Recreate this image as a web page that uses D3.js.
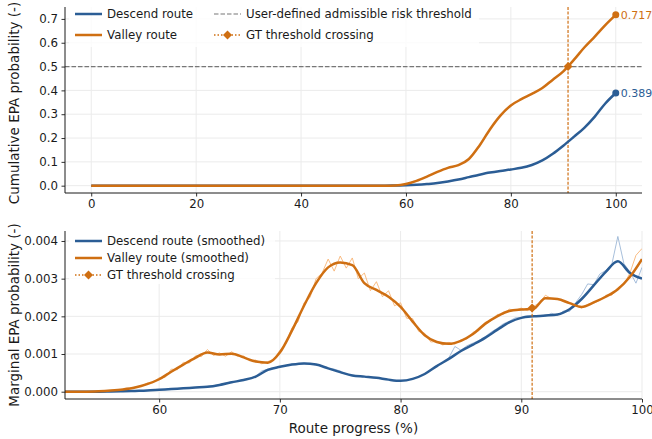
<!DOCTYPE html>
<html><head><meta charset="utf-8">
<script src="https://cdn.jsdelivr.net/npm/d3@7"></script>
<style>
body{margin:0;background:#fff;}
svg text{font-family:"DejaVu Sans",sans-serif;}
</style></head>
<body><svg id="c" width="652" height="439"></svg>
<script>
// ---------- DATA ----------
const cumX = [0,20,40,56,58,60,62,64,66,68,70,72,74,76,78,80,82,84,86,88,90,92,94,96,98,100];
const cumValley = [0,0,0,0,0.001,0.007,0.020,0.038,0.058,0.075,0.086,0.112,0.168,0.236,0.294,0.337,0.363,0.385,0.410,0.445,0.480,0.528,0.580,0.626,0.674,0.717];
const cumDescend = [0,0,0,0,0.001,0.002,0.004,0.007,0.011,0.018,0.026,0.036,0.046,0.055,0.062,0.068,0.075,0.087,0.106,0.134,0.168,0.205,0.243,0.290,0.345,0.389];
const topXTicks = [0,20,40,60,80,100];
const topYTicks = [0.0,0.1,0.2,0.3,0.4,0.5,0.6,0.7];
const threshold = 0.5;
const gtCross = 90.9;
const gtMarginal = 0.00222;
const endLabels = ["0.717","0.389"];

// marginal, smoothed (1 % steps from 52 to 100), units 1e-3
const smStart = 52, smStep = 1;
const smValley = [0,0,0,0.01,0.03,0.06,0.11,0.20,0.33,0.53,
  0.72,0.90,1.04,0.99,1.01,0.91,0.80,0.77,1.04,1.62,
  2.28,2.88,3.30,3.43,3.36,2.88,2.70,2.52,2.25,1.86,
  1.50,1.32,1.27,1.35,1.53,1.80,2.00,2.14,2.18,2.20,
  2.48,2.46,2.35,2.25,2.37,2.52,2.72,3.05,3.52];
const smDescend = [0,0,0,0,0.005,0.01,0.02,0.03,0.05,0.07,
  0.09,0.11,0.13,0.18,0.25,0.31,0.40,0.58,0.66,0.72,
  0.75,0.72,0.62,0.52,0.43,0.40,0.37,0.32,0.29,0.34,
  0.47,0.68,0.87,1.08,1.25,1.43,1.64,1.84,1.96,2.00,
  2.02,2.05,2.19,2.46,2.82,3.18,3.46,3.15,3.00];
// marginal, raw (0.5 % steps from 52 to 100), units 1e-3
const rawStart = 52, rawStep = 0.5;
const rawValley = [0,0,0,0,0,0.005,0.01,0.015,0.03,0.04,
  0.06,0.08,0.12,0.14,0.23,0.24,0.37,0.38,0.60,0.58,
  0.78,0.76,0.95,0.93,1.12,0.96,1.03,0.94,1.06,0.95,
  0.95,0.82,0.84,0.74,0.80,0.86,1.10,1.28,1.70,1.85,
  2.36,2.50,3.00,3.15,3.52,3.20,3.60,3.28,3.55,3.00,
  3.15,2.68,2.92,2.52,2.68,2.28,2.36,1.95,1.94,1.60,
  1.55,1.32,1.33,1.24,1.31,1.26,1.38,1.40,1.58,1.62,
  1.84,1.88,2.05,2.06,2.19,2.16,2.22,2.15,2.26,2.36,
  2.56,2.47,2.47,2.39,2.36,2.28,2.22,2.32,2.35,2.42,
  2.56,2.56,2.76,2.84,3.15,3.62,3.80];
const rawDescend = [0,0,0,0,0,0,0,0,0.005,0.008,
  0.01,0.015,0.02,0.025,0.03,0.04,0.05,0.06,0.07,0.08,
  0.09,0.10,0.11,0.12,0.14,0.16,0.19,0.23,0.26,0.28,
  0.31,0.35,0.41,0.55,0.60,0.63,0.66,0.70,0.73,0.74,
  0.76,0.74,0.71,0.67,0.62,0.60,0.55,0.46,0.44,0.41,
  0.41,0.38,0.37,0.34,0.32,0.30,0.29,0.31,0.34,0.40,
  0.48,0.58,0.70,0.76,0.90,1.20,1.10,1.22,1.29,1.36,
  1.46,1.58,1.68,1.80,1.87,1.96,1.97,2.01,1.99,2.02,
  2.00,2.08,2.03,2.14,2.13,2.36,2.58,2.86,2.84,3.12,
  3.22,3.38,4.12,3.40,3.18,2.88,3.30];
const botXTicks = [60,70,80,90,100];
const botYTicks = [0,0.001,0.002,0.003,0.004];

// ---------- STYLE ----------
const BLUE = "#2b5d95", ORANGE = "#cf6f12";
const BLUE_RAW = "#8aa9cf", ORANGE_RAW = "#f7ad66";
const svg = d3.select("#c");
const FS = 11.8;

function drawGrid(g, x, y, xt, yt, L, R, T, B){
  g.append("g").selectAll("line").data(xt).join("line")
    .attr("x1",d=>x(d)).attr("x2",d=>x(d)).attr("y1",T).attr("y2",B)
    .attr("stroke","#ebebeb").attr("stroke-width",1);
  g.append("g").selectAll("line").data(yt).join("line")
    .attr("x1",L).attr("x2",R).attr("y1",d=>y(d)).attr("y2",d=>y(d))
    .attr("stroke","#ebebeb").attr("stroke-width",1);
}
function drawAxes(g, x, y, xt, yt, xfmt, yfmt, L, R, T, B){
  const ax = g.append("g").attr("transform",`translate(0,${B})`)
    .call(d3.axisBottom(x).tickValues(xt).tickFormat(xfmt).tickSize(3.5).tickPadding(3.5).tickSizeOuter(0));
  const ay = g.append("g").attr("transform",`translate(${L},0)`)
    .call(d3.axisLeft(y).tickValues(yt).tickFormat(yfmt).tickSize(3.5).tickPadding(3.5).tickSizeOuter(0));
  [ax,ay].forEach(a=>{
    a.select(".domain").remove();
    a.selectAll("text").attr("font-size",FS).attr("fill","#1a1a1a");
    a.selectAll(".tick line").attr("stroke","#1a1a1a").attr("stroke-width",0.9);
  });
  g.append("line").attr("x1",L).attr("x2",L).attr("y1",T).attr("y2",B).attr("stroke","#1a1a1a").attr("stroke-width",1);
  g.append("line").attr("x1",L).attr("x2",R).attr("y1",B).attr("y2",B).attr("stroke","#1a1a1a").attr("stroke-width",1);
}
function diamond(g, cx, cy, r, col){
  g.append("path").attr("d",`M${cx},${cy-r}L${cx+r},${cy}L${cx},${cy+r}L${cx-r},${cy}Z`).attr("fill",col);
}

// ---------- TOP PANEL ----------
{
  const L=65,R=642,T=7,B=193;
  const x = d3.scaleLinear().domain([-5,105]).range([L,R]);
  const y = d3.scaleLinear().domain([-0.0307,0.750]).range([B,T]);
  const g = svg.append("g");
  drawGrid(g,x,y,topXTicks,topYTicks,L,R,T,B);
  g.append("line").attr("x1",L).attr("x2",R).attr("y1",y(threshold)).attr("y2",y(threshold))
    .attr("stroke","#777").attr("stroke-width",1.2).attr("stroke-dasharray","4.5,2");
  g.append("line").attr("x1",x(gtCross)).attr("x2",x(gtCross)).attr("y1",T).attr("y2",B)
    .attr("stroke",ORANGE).attr("stroke-opacity",0.85).attr("stroke-width",1.4).attr("stroke-dasharray","3,1.6");
  const line = d3.line().x((d,i)=>x(cumX[i])).y(d=>y(d)).curve(d3.curveMonotoneX);
  g.append("path").attr("d",line(cumDescend)).attr("fill","none").attr("stroke",BLUE).attr("stroke-width",2.5);
  g.append("path").attr("d",line(cumValley)).attr("fill","none").attr("stroke",ORANGE).attr("stroke-width",2.5);
  const lastV = cumValley[cumValley.length-1], lastD = cumDescend[cumDescend.length-1];
  const lastX = cumX[cumX.length-1];
  g.append("circle").attr("cx",x(lastX)).attr("cy",y(lastV)).attr("r",3.5).attr("fill",ORANGE);
  g.append("circle").attr("cx",x(lastX)).attr("cy",y(lastD)).attr("r",3.5).attr("fill",BLUE);
  g.append("text").attr("x",x(lastX)+5).attr("y",y(lastV)).attr("dy","0.35em").attr("font-size",11).attr("fill",ORANGE).text(endLabels[0]);
  g.append("text").attr("x",x(lastX)+5).attr("y",y(lastD)).attr("dy","0.35em").attr("font-size",11).attr("fill",BLUE).text(endLabels[1]);
  diamond(g, x(gtCross), y(threshold), 4.5, ORANGE);
  drawAxes(g,x,y,topXTicks,topYTicks,d3.format("d"),d3.format(".1f"),L,R,T,B);
  const lg = g.append("g");
  lg.append("rect").attr("x",69).attr("y",3).attr("width",410).attr("height",44).attr("fill","#fff").attr("opacity",0.8);
  const items = [
    {x:75,y:14,t:"Descend route",c:BLUE,type:"solid"},
    {x:75,y:35,t:"Valley route",c:ORANGE,type:"solid"},
    {x:214,y:14,t:"User-defined admissible risk threshold",c:"#777",type:"dash"},
    {x:214,y:35,t:"GT threshold crossing",c:ORANGE,type:"dot"}
  ];
  items.forEach(it=>{
    const ln = lg.append("line").attr("x1",it.x).attr("x2",it.x+27).attr("y1",it.y).attr("y2",it.y).attr("stroke",it.c);
    if(it.type==="solid") ln.attr("stroke-width",2.5);
    if(it.type==="dash") ln.attr("stroke-width",1.2).attr("stroke-dasharray","4.5,2");
    if(it.type==="dot"){ ln.attr("stroke-width",1.4).attr("stroke-dasharray","1.5,2"); diamond(lg,it.x+13.5,it.y,4.5,it.c); }
    lg.append("text").attr("x",it.x+32).attr("y",it.y).attr("dy","0.35em").attr("font-size",FS).attr("fill","#1a1a1a").text(it.t);
  });
  svg.append("text").attr("transform",`translate(14,${(T+B)/2+3}) rotate(-90)`).attr("text-anchor","middle")
    .attr("dy","0.35em").attr("font-size",13.5).attr("fill","#1a1a1a").text("Cumulative EPA probability (-)");
}

// ---------- BOTTOM PANEL ----------
{
  const L=65,R=642,T=231,B=399;
  const x = d3.scaleLinear().domain([52.2,100]).range([L,R]);
  const y = d3.scaleLinear().domain([-0.000194,0.004265]).range([B,T]);
  const g = svg.append("g");
  drawGrid(g,x,y,botXTicks,botYTicks,L,R,T,B);
  g.append("clipPath").attr("id","clipB").append("rect").attr("x",L).attr("y",T-4).attr("width",R-L).attr("height",B-T+4);
  const pg = g.append("g").attr("clip-path","url(#clipB)");
  const rawLine = d3.line().x((d,i)=>x(rawStart+i*rawStep)).y(d=>y(d*1e-3));
  const smLine = d3.line().x((d,i)=>x(smStart+i*smStep)).y(d=>y(d*1e-3)).curve(d3.curveMonotoneX);
  pg.append("path").attr("d",rawLine(rawDescend)).attr("fill","none").attr("stroke",BLUE_RAW).attr("stroke-opacity",0.75).attr("stroke-width",1);
  pg.append("path").attr("d",rawLine(rawValley)).attr("fill","none").attr("stroke",ORANGE_RAW).attr("stroke-opacity",0.8).attr("stroke-width",1);
  g.append("line").attr("x1",x(gtCross)).attr("x2",x(gtCross)).attr("y1",T).attr("y2",B)
    .attr("stroke",ORANGE).attr("stroke-opacity",0.85).attr("stroke-width",1.4).attr("stroke-dasharray","3,1.6");
  pg.append("path").attr("d",smLine(smDescend)).attr("fill","none").attr("stroke",BLUE).attr("stroke-width",2.5);
  pg.append("path").attr("d",smLine(smValley)).attr("fill","none").attr("stroke",ORANGE).attr("stroke-width",2.5);
  diamond(g, x(gtCross), y(gtMarginal), 4.5, ORANGE);
  drawAxes(g,x,y,botXTicks,botYTicks,d3.format("d"),d3.format(".3f"),L,R,T,B);
  const lg = g.append("g");
  lg.append("rect").attr("x",69).attr("y",232).attr("width",206).attr("height",52).attr("fill","#fff").attr("opacity",0.8);
  const items = [
    {y:241,t:"Descend route (smoothed)",c:BLUE,type:"solid"},
    {y:258,t:"Valley route (smoothed)",c:ORANGE,type:"solid"},
    {y:275,t:"GT threshold crossing",c:ORANGE,type:"dot"}
  ];
  items.forEach(it=>{
    const ln = lg.append("line").attr("x1",75).attr("x2",102).attr("y1",it.y).attr("y2",it.y).attr("stroke",it.c);
    if(it.type==="solid") ln.attr("stroke-width",2.5);
    if(it.type==="dot"){ ln.attr("stroke-width",1.4).attr("stroke-dasharray","1.5,2"); diamond(lg,88.5,it.y,4.5,it.c); }
    lg.append("text").attr("x",107).attr("y",it.y).attr("dy","0.35em").attr("font-size",FS).attr("fill","#1a1a1a").text(it.t);
  });
  svg.append("text").attr("transform",`translate(14,${(T+B)/2}) rotate(-90)`).attr("text-anchor","middle")
    .attr("dy","0.35em").attr("font-size",13.5).attr("fill","#1a1a1a").text("Marginal EPA probability (-)");
  svg.append("text").attr("x",(L+R)/2).attr("y",428).attr("text-anchor","middle").attr("dy","0.35em")
    .attr("font-size",13.5).attr("fill","#1a1a1a").text("Route progress (%)");
}
</script></body></html>
